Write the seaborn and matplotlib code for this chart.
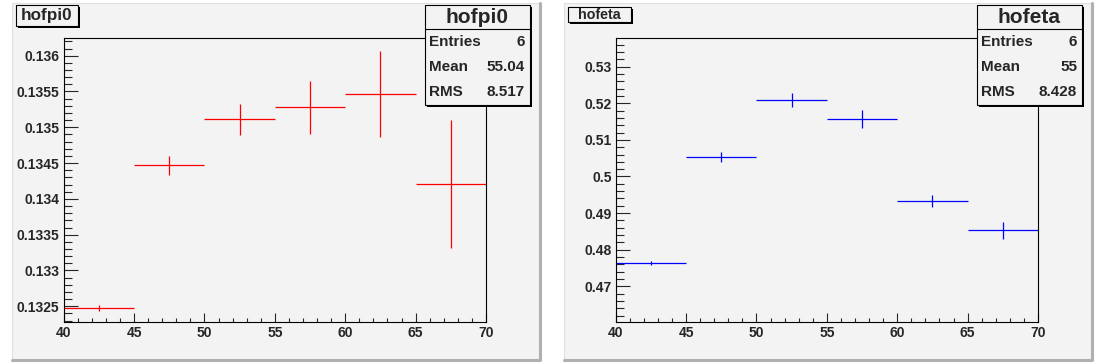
import numpy as np
import matplotlib
matplotlib.use("Agg")
import matplotlib.pyplot as plt
from matplotlib.patches import Rectangle
from matplotlib.ticker import MultipleLocator, FuncFormatter
import seaborn as sns

# -------------------------------
# DATA
# -------------------------------
bin_edges = [40, 45, 50, 55, 60, 65, 70]

pi0_vals = [0.13248, 0.13447, 0.13511, 0.13528, 0.13546, 0.13421]
pi0_errs = [0.00004, 0.000135, 0.00022, 0.00037, 0.0006, 0.00089]

eta_vals = [0.4763, 0.5053, 0.5209, 0.5157, 0.4933, 0.4853]
eta_errs = [0.0006, 0.0014, 0.0020, 0.0024, 0.0016, 0.0023]

names = ["hofpi0", "hofeta"]
stats = [("6", "55.04", "8.517"), ("6", "55", "8.428")]

# -------------------------------
# STYLE
# -------------------------------
sns.set_style("ticks")
plt.rcParams["font.family"] = ["Liberation Sans", "DejaVu Sans"]
plt.rcParams["font.weight"] = "bold"

PAD_BG = "#f3f3f3"
W, H = 1104, 363

fig = plt.figure(figsize=(W / 100, H / 100), dpi=100)
fig.patch.set_facecolor("white")

# background pads (pixel coordinates)
bg = fig.add_axes([0, 0, 1, 1], zorder=0)
bg.set_xlim(0, W)
bg.set_ylim(H, 0)
bg.axis("off")

# overlay for title / stats boxes
ov = fig.add_axes([0, 0, 1, 1], zorder=10)
ov.set_xlim(0, W)
ov.set_ylim(H, 0)
ov.axis("off")
ov.patch.set_alpha(0)

edges = np.array(bin_edges, dtype=float)
centers = (edges[:-1] + edges[1:]) / 2
half = (edges[1:] - edges[:-1]) / 2

# values, errors, colour, y-range, major/minor step, title box (x0, y0, w, h, fontsize)
panels = [
    (pi0_vals, pi0_errs, "red", (0.13228, 0.136247), 0.0005, 0.0001,
     (16, 4.5, 62, 21.5, 12.3)),
    (eta_vals, eta_errs, "blue", (0.46024, 0.53784), 0.01, 0.002,
     (15.7, 6.7, 63, 15.3, 10.3)),
]

for i, (vals, errs, color, ylim, major, minor, tbox) in enumerate(panels):
    off = i * 552

    # pad with bevel border
    bg.add_patch(Rectangle((off + 12, 3), 527, 356, facecolor=PAD_BG,
                           edgecolor="none"))
    bg.plot([off + 12, off + 12, off + 539], [359, 3, 3], color="#e0e0e0", lw=0.8)
    bg.plot([off + 540, off + 540, off + 12], [3, 360, 360], color="#b0b0b0", lw=2.2)

    # data axes
    ax = fig.add_axes([(off + 63.7) / W, 1 - 322 / H, 422.3 / W, 284 / H], zorder=1)
    ax.set_facecolor(PAD_BG)
    ax.errorbar(centers, vals, xerr=half, yerr=errs, fmt="none",
                ecolor=color, elinewidth=0.9, capsize=0)
    ax.set_xlim(edges[0], edges[-1])
    ax.set_ylim(*ylim)

    ax.xaxis.set_major_locator(MultipleLocator(5))
    ax.xaxis.set_minor_locator(MultipleLocator(1))
    ax.yaxis.set_major_locator(MultipleLocator(major))
    ax.yaxis.set_minor_locator(MultipleLocator(minor))
    ax.yaxis.set_major_formatter(FuncFormatter(lambda v, p: f"{round(v, 6):g}"))

    ax.tick_params(axis="x", which="major", direction="in", length=6.3,
                   width=0.8, pad=3, labelsize=10)
    ax.tick_params(axis="x", which="minor", direction="in", length=3.2, width=0.8)
    ax.tick_params(axis="y", which="major", direction="in", length=10,
                   width=0.8, pad=3, labelsize=10)
    ax.tick_params(axis="y", which="minor", direction="in", length=5.5, width=0.8)
    for lab in ax.get_xticklabels() + ax.get_yticklabels():
        lab.set_fontweight("bold")
    for sp in ax.spines.values():
        sp.set_visible(True)
        sp.set_linewidth(0.8)
        sp.set_color("black")

    # title box (top left)
    tx, ty, tw, th, tfs = tbox
    ov.add_patch(Rectangle((off + tx + 2, ty + 2), tw, th, facecolor="black",
                           edgecolor="none"))
    ov.add_patch(Rectangle((off + tx, ty), tw, th, facecolor=PAD_BG,
                           edgecolor="black", lw=0.8))
    ov.text(off + tx + tw / 2, ty + th / 2 + 0.5, names[i], ha="center",
            va="center", fontsize=tfs, fontweight="bold")

    # stats box (top right)
    ov.add_patch(Rectangle((off + 426.5, 6.5), 105, 100, facecolor="black",
                           edgecolor="none"))
    ov.add_patch(Rectangle((off + 424.5, 4.5), 105, 100, facecolor=PAD_BG,
                           edgecolor="black", lw=0.8))
    ov.plot([off + 424.5, off + 529.5], [29, 29], color="black", lw=0.8)
    ov.text(off + 477, 17.5, names[i], ha="center", va="center",
            fontsize=15, fontweight="bold")
    for j, (lbl, val) in enumerate(zip(["Entries", "Mean", "RMS"], stats[i])):
        y = 42 + 25 * j
        ov.text(off + 428.5, y, lbl, ha="left", va="center",
                fontsize=11, fontweight="bold")
        ov.text(off + 525, y, val, ha="right", va="center",
                fontsize=11, fontweight="bold")

fig.savefig("out.png", dpi=100, facecolor=fig.get_facecolor())
